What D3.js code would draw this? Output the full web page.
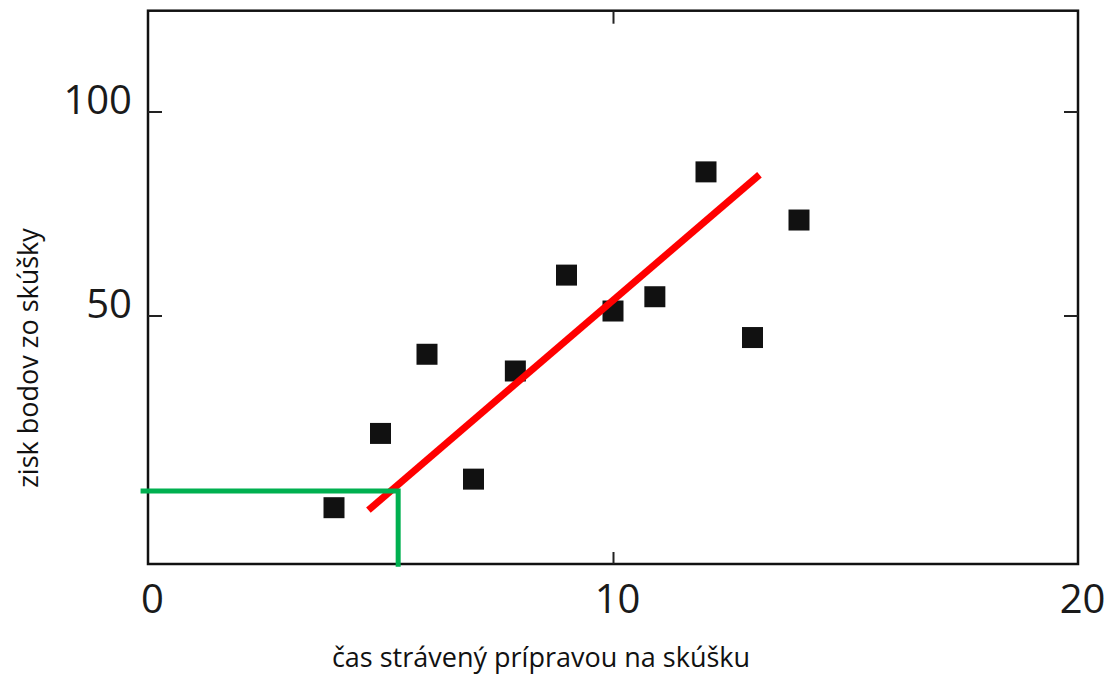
<!DOCTYPE html>
<html>
<head>
<meta charset="utf-8">
<script src="https://cdn.jsdelivr.net/npm/d3@7"></script>
<style>
  html, body { margin: 0; padding: 0; background: #fff; }
  svg { display: block; }
</style>
</head>
<body>
<svg id="chart" width="1107" height="675"></svg>
<script>
// ---- data ----
const hoursX = [4, 5, 6, 7, 7.9, 9, 10, 10.9, 12, 13, 14];
const pointsY = [2.9, 21.1, 40.5, 9.9, 36.4, 59.9, 51.1, 54.6, 85.2, 44.6, 73.4];
const fitLineX = [4.74, 13.15];
const fitLineY = [2.3, 84.5];
const guideX = [-0.16, 5.38, 5.38];
const guideY = [7.0, 7.0, -11.6];
const xTicks = [0, 10, 20];
const yTicks = [50, 100];
const xTitle = "čas strávený prípravou na skúšku";
const yTitle = "zisk bodov zo skúšky";

// ---- layout ----
const plotL = 148, plotR = 1078, plotT = 10.7, plotB = 564;

const svg = d3.select("#chart");
const x = d3.scaleLinear().domain([0, 20]).range([plotL, plotR]);
const y = d3.scaleLinear().domain([-10.9, 124.7]).range([plotB, plotT]);

const numFont = "'Open Sans', sans-serif";

// frame
svg.append("rect")
  .attr("x", plotL).attr("y", plotT)
  .attr("width", plotR - plotL).attr("height", plotB - plotT)
  .attr("fill", "none").attr("stroke", "#111").attr("stroke-width", 2.5);

// axes
function styleAxis(g) {
  g.select(".domain").remove();
  g.selectAll(".tick line").attr("stroke", "#222").attr("stroke-width", 2);
  g.selectAll(".tick text")
    .attr("fill", "#1a1a1a")
    .style("font-family", numFont)
    .style("font-size", "40px");
}

const gBottom = svg.append("g").attr("transform", `translate(0,${plotB})`)
  .call(d3.axisBottom(x).tickValues(xTicks).tickFormat(d3.format("d"))
    .tickSizeInner(-12).tickSizeOuter(0).tickPadding(20.6));
styleAxis(gBottom);
gBottom.selectAll(".tick text").attr("dx", 4);
gBottom.selectAll(".tick line").filter(d => d === 0 || d === 20).remove();

const gTop = svg.append("g").attr("transform", `translate(0,${plotT})`)
  .call(d3.axisTop(x).tickValues(xTicks).tickFormat("")
    .tickSizeInner(-13).tickSizeOuter(0));
styleAxis(gTop);
gTop.selectAll(".tick line").filter(d => d === 0 || d === 20).remove();

const gLeft = svg.append("g").attr("transform", `translate(${plotL},0)`)
  .call(d3.axisLeft(y).tickValues(yTicks).tickFormat(d3.format("d"))
    .tickSizeInner(-14).tickSizeOuter(0).tickPadding(16));
styleAxis(gLeft);
gLeft.selectAll(".tick text").attr("dy", "0.06em");

const gRight = svg.append("g").attr("transform", `translate(${plotR},0)`)
  .call(d3.axisRight(y).tickValues(yTicks).tickFormat("")
    .tickSizeInner(-14).tickSizeOuter(0));
styleAxis(gRight);

// points
const pts = hoursX.map((v, i) => ({ x: v, y: pointsY[i] }));
svg.append("g").selectAll("path").data(pts).join("path")
  .attr("d", d3.symbol(d3.symbolSquare, 21 * 21))
  .attr("transform", d => `translate(${x(d.x)},${y(d.y)})`)
  .attr("fill", "#111");

// regression line
const line = d3.line().x(d => x(d[0])).y(d => y(d[1]));
svg.append("path")
  .attr("d", line(fitLineX.map((v, i) => [v, fitLineY[i]])))
  .attr("fill", "none").attr("stroke", "#ff0000").attr("stroke-width", 7);

// green guide
svg.append("path")
  .attr("d", line(guideX.map((v, i) => [v, guideY[i]])))
  .attr("fill", "none").attr("stroke", "#00b050").attr("stroke-width", 5)
  .attr("stroke-linejoin", "miter");

// titles
svg.append("text")
  .attr("x", 541).attr("y", 667)
  .attr("text-anchor", "middle")
  .style("font-family", numFont).style("font-size", "27px")
  .attr("fill", "#111")
  .text(xTitle);

svg.append("text")
  .attr("transform", "translate(38,358) rotate(-90)")
  .attr("text-anchor", "middle")
  .style("font-family", numFont).style("font-size", "27px")
  .attr("fill", "#111")
  .text(yTitle);
</script>
</body>
</html>
